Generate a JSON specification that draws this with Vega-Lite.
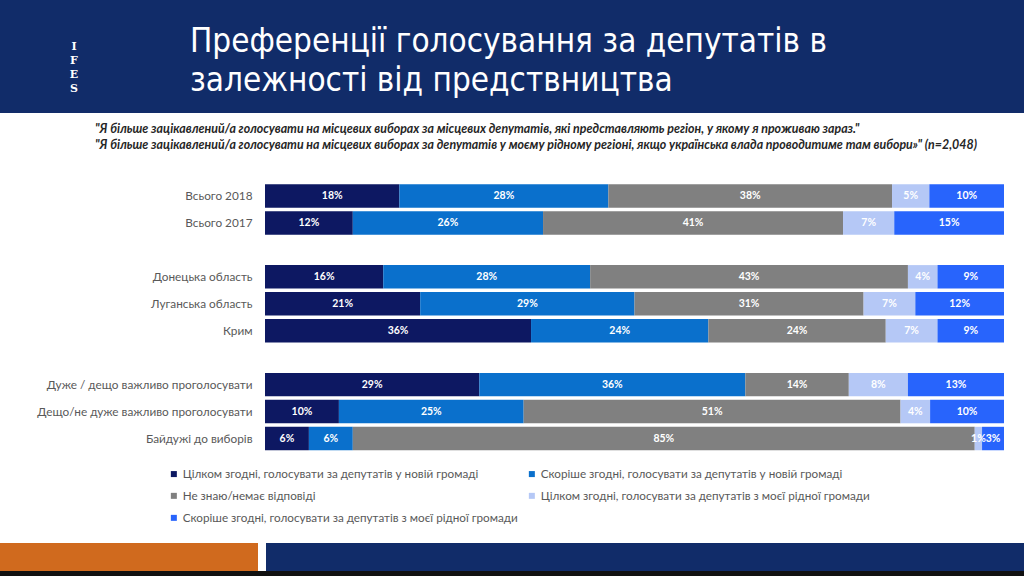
{
  "$schema": "https://vega.github.io/schema/vega-lite/v6.json",
  "padding": 0,
  "spacing": 0,
  "background": "white",
  "config": {"view": {"stroke": null}, "font": "Lato"},
  "vconcat": [
    {
      "width": 1024,
      "height": 113,
      "view": {"fill": "#112c69", "stroke": null},
      "layer": [
        {
          "data": {"values": [
            {"line": 1, "text": "Преференції голосування за депутатів в"},
            {"line": 2, "text": "залежності від предствництва"}
          ]},
          "mark": {"type": "text", "align": "left", "baseline": "middle", "dx": -322, "font": "DejaVu Sans Condensed", "fontSize": 33, "color": "white"},
          "encoding": {
            "y": {"field": "line", "type": "ordinal", "axis": null, "scale": {"range": [42, 81], "padding": 0}},
            "text": {"field": "text"}
          }
        },
        {
          "data": {"values": [{"logo": "IFES"}]},
          "mark": {"type": "text", "align": "center", "baseline": "middle", "dx": -438, "dy": -10, "font": "DejaVu Serif", "fontSize": 11, "fontWeight": "bold", "color": "white", "lineHeight": 14},
          "encoding": {
            "text": {"value": ["I", "F", "E", "S"]}
          }
        }
      ]
    },
    {
      "width": 1024,
      "height": 430,
      "resolve": {"scale": {"y": "independent"}},
      "layer": [
        {
          "data": {"values": [
            {"line": 1, "text": "\"Я більше зацікавлений/а голосувати на місцевих виборах за місцевих депутатів, які представляють регіон, у якому я проживаю зараз.\""},
            {"line": 2, "text": "\"Я більше зацікавлений/а голосувати на місцевих виборах за депутатів у моєму рідному регіоні, якщо українська влада проводитиме там вибори»\" (n=2,048)"}
          ]},
          "mark": {"type": "text", "align": "left", "baseline": "middle", "dx": -417, "fontSize": 12.4, "fontStyle": "italic", "fontWeight": "bold", "color": "#262626"},
          "encoding": {
            "y": {"field": "line", "type": "ordinal", "axis": null, "scale": {"range": [16, 32], "padding": 0}},
            "text": {"field": "text"}
          }
        },
        {
          "data": {"name": "bars", "values": [
            {"g": "Всього 2018", "k": 1, "c": "Цілком згодні, голосувати за депутатів у новій громаді", "v": 18},
            {"g": "Всього 2018", "k": 2, "c": "Скоріше згодні, голосувати за депутатів у новій громаді", "v": 28},
            {"g": "Всього 2018", "k": 3, "c": "Не знаю/немає відповіді", "v": 38},
            {"g": "Всього 2018", "k": 4, "c": "Цілком згодні, голосувати за депутатів з моєї рідної громади", "v": 5},
            {"g": "Всього 2018", "k": 5, "c": "Скоріше згодні, голосувати за депутатів з моєї рідної громади", "v": 10},
            {"g": "Всього 2017", "k": 1, "c": "Цілком згодні, голосувати за депутатів у новій громаді", "v": 12},
            {"g": "Всього 2017", "k": 2, "c": "Скоріше згодні, голосувати за депутатів у новій громаді", "v": 26},
            {"g": "Всього 2017", "k": 3, "c": "Не знаю/немає відповіді", "v": 41},
            {"g": "Всього 2017", "k": 4, "c": "Цілком згодні, голосувати за депутатів з моєї рідної громади", "v": 7},
            {"g": "Всього 2017", "k": 5, "c": "Скоріше згодні, голосувати за депутатів з моєї рідної громади", "v": 15},
            {"g": "Донецька область", "k": 1, "c": "Цілком згодні, голосувати за депутатів у новій громаді", "v": 16},
            {"g": "Донецька область", "k": 2, "c": "Скоріше згодні, голосувати за депутатів у новій громаді", "v": 28},
            {"g": "Донецька область", "k": 3, "c": "Не знаю/немає відповіді", "v": 43},
            {"g": "Донецька область", "k": 4, "c": "Цілком згодні, голосувати за депутатів з моєї рідної громади", "v": 4},
            {"g": "Донецька область", "k": 5, "c": "Скоріше згодні, голосувати за депутатів з моєї рідної громади", "v": 9},
            {"g": "Луганська область", "k": 1, "c": "Цілком згодні, голосувати за депутатів у новій громаді", "v": 21},
            {"g": "Луганська область", "k": 2, "c": "Скоріше згодні, голосувати за депутатів у новій громаді", "v": 29},
            {"g": "Луганська область", "k": 3, "c": "Не знаю/немає відповіді", "v": 31},
            {"g": "Луганська область", "k": 4, "c": "Цілком згодні, голосувати за депутатів з моєї рідної громади", "v": 7},
            {"g": "Луганська область", "k": 5, "c": "Скоріше згодні, голосувати за депутатів з моєї рідної громади", "v": 12},
            {"g": "Крим", "k": 1, "c": "Цілком згодні, голосувати за депутатів у новій громаді", "v": 36},
            {"g": "Крим", "k": 2, "c": "Скоріше згодні, голосувати за депутатів у новій громаді", "v": 24},
            {"g": "Крим", "k": 3, "c": "Не знаю/немає відповіді", "v": 24},
            {"g": "Крим", "k": 4, "c": "Цілком згодні, голосувати за депутатів з моєї рідної громади", "v": 7},
            {"g": "Крим", "k": 5, "c": "Скоріше згодні, голосувати за депутатів з моєї рідної громади", "v": 9},
            {"g": "Дуже / дещо важливо проголосувати", "k": 1, "c": "Цілком згодні, голосувати за депутатів у новій громаді", "v": 29},
            {"g": "Дуже / дещо важливо проголосувати", "k": 2, "c": "Скоріше згодні, голосувати за депутатів у новій громаді", "v": 36},
            {"g": "Дуже / дещо важливо проголосувати", "k": 3, "c": "Не знаю/немає відповіді", "v": 14},
            {"g": "Дуже / дещо важливо проголосувати", "k": 4, "c": "Цілком згодні, голосувати за депутатів з моєї рідної громади", "v": 8},
            {"g": "Дуже / дещо важливо проголосувати", "k": 5, "c": "Скоріше згодні, голосувати за депутатів з моєї рідної громади", "v": 13},
            {"g": "Дещо/не дуже важливо проголосувати", "k": 1, "c": "Цілком згодні, голосувати за депутатів у новій громаді", "v": 10},
            {"g": "Дещо/не дуже важливо проголосувати", "k": 2, "c": "Скоріше згодні, голосувати за депутатів у новій громаді", "v": 25},
            {"g": "Дещо/не дуже важливо проголосувати", "k": 3, "c": "Не знаю/немає відповіді", "v": 51},
            {"g": "Дещо/не дуже важливо проголосувати", "k": 4, "c": "Цілком згодні, голосувати за депутатів з моєї рідної громади", "v": 4},
            {"g": "Дещо/не дуже важливо проголосувати", "k": 5, "c": "Скоріше згодні, голосувати за депутатів з моєї рідної громади", "v": 10},
            {"g": "Байдужі до виборів", "k": 1, "c": "Цілком згодні, голосувати за депутатів у новій громаді", "v": 6},
            {"g": "Байдужі до виборів", "k": 2, "c": "Скоріше згодні, голосувати за депутатів у новій громаді", "v": 6},
            {"g": "Байдужі до виборів", "k": 3, "c": "Не знаю/немає відповіді", "v": 85},
            {"g": "Байдужі до виборів", "k": 4, "c": "Цілком згодні, голосувати за депутатів з моєї рідної громади", "v": 1},
            {"g": "Байдужі до виборів", "k": 5, "c": "Скоріше згодні, голосувати за депутатів з моєї рідної громади", "v": 3}
          ]},
          "layer": [
            {
              "mark": {"type": "bar"},
              "encoding": {
                "x": {"field": "v", "type": "quantitative", "stack": "normalize", "axis": null, "scale": {"range": [265, 1004]}},
                "y": {
                  "field": "g", "type": "nominal",
                  "scale": {
                    "domain": ["Всього 2018", "Всього 2017", " ", "Донецька область", "Луганська область", "Крим", "  ", "Дуже / дещо важливо проголосувати", "Дещо/не дуже важливо проголосувати", "Байдужі до виборів"],
                    "range": [69.5, 339], "paddingInner": 0.13, "paddingOuter": 0.065
                  },
                  "axis": {"orient": "left", "offset": -262, "ticks": false, "tickSize": 0, "domain": false, "labelPadding": 10, "labelFontSize": 11.8, "labelColor": "#595959", "labelLimit": 400, "title": null}
                },
                "color": {
                  "field": "c", "type": "nominal",
                  "scale": {
                    "domain": [
                      "Цілком згодні, голосувати за депутатів у новій громаді",
                      "Скоріше згодні, голосувати за депутатів у новій громаді",
                      "Не знаю/немає відповіді",
                      "Цілком згодні, голосувати за депутатів з моєї рідної громади",
                      "Скоріше згодні, голосувати за депутатів з моєї рідної громади"
                    ],
                    "range": ["#0d1862", "#0a70cc", "#808080", "#b5c8f6", "#2864fc"]
                  },
                  "legend": {"orient": "none", "direction": "horizontal", "legendX": 168, "legendY": 468, "columns": 2, "columnPadding": 8, "rowPadding": 9, "symbolType": "square", "symbolSize": 36, "symbolStrokeWidth": 0, "labelFontSize": 11.7, "labelColor": "#595959", "labelOffset": 3, "labelLimit": 400, "title": null}
                },
                "order": {"field": "k", "type": "quantitative"}
              }
            },
            {
              "transform": [{"calculate": "datum.v + '%'", "as": "lbl"}],
              "mark": {"type": "text", "color": "white", "fontWeight": "bold", "fontSize": 10.5, "baseline": "middle", "align": "center"},
              "encoding": {
                "x": {"field": "v", "type": "quantitative", "stack": "normalize", "bandPosition": 0.5},
                "y": {"field": "g", "type": "nominal"},
                "detail": {"field": "c"},
                "order": {"field": "k", "type": "quantitative"},
                "text": {"field": "lbl"}
              }
            }
          ]
        }
      ]
    },
    {
      "spacing": 8,
      "hconcat": [
        {"width": 258, "height": 28, "view": {"fill": "#d06a1e", "stroke": null}, "data": {"values": []}, "mark": "rect", "encoding": {}},
        {"width": 758, "height": 28, "view": {"fill": "#112c69", "stroke": null}, "data": {"values": []}, "mark": "rect", "encoding": {}}
      ]
    },
    {"width": 1024, "height": 5, "view": {"fill": "#111111", "stroke": null}, "data": {"values": []}, "mark": "rect", "encoding": {}}
  ]
}
